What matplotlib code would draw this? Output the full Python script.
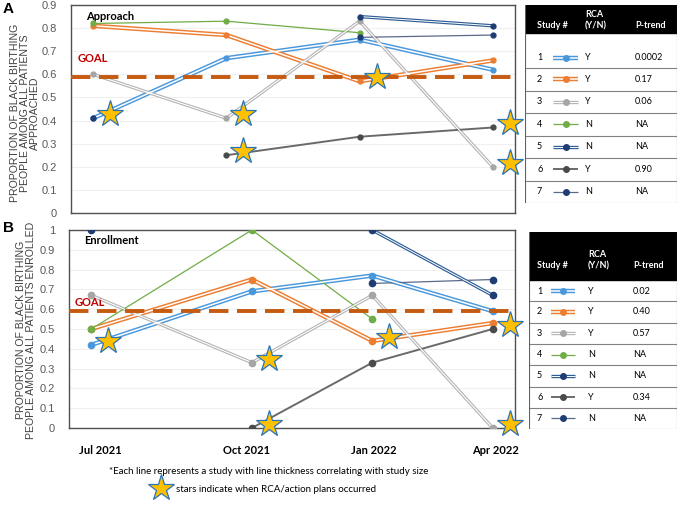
import numpy as np
import matplotlib
matplotlib.use("Agg")
import matplotlib.pyplot as plt
from matplotlib.patches import Rectangle
from matplotlib.transforms import offset_copy

nan = np.nan

# time points
months = ['Jul 2021', 'Oct 2021', 'Jan 2022', 'Apr 2022']

# panel A: proportion approached, per study
approach_s1 = [0.41, 0.67, 0.75, 0.62]
approach_s2 = [0.81, 0.77, 0.57, 0.66]
approach_s3 = [0.60, 0.41, 0.83, 0.20]
approach_s4 = [0.82, 0.83, 0.78, nan]
approach_s5 = [0.41, nan, 0.85, 0.81]
approach_s6 = [nan, 0.25, 0.33, 0.37]
approach_s7 = [nan, nan, 0.76, 0.77]

# panel B: proportion enrolled, per study
enroll_s1 = [0.42, 0.69, 0.77, 0.59]
enroll_s2 = [0.50, 0.75, 0.44, 0.53]
enroll_s3 = [0.67, 0.33, 0.67, 0.00]
enroll_s4 = [0.50, 1.00, 0.55, nan]
enroll_s5 = [1.00, nan, 1.00, 0.67]
enroll_s6 = [nan, 0.00, 0.33, 0.50]
enroll_s7 = [nan, nan, 0.73, 0.75]

goal = 0.59

# RCA / action plan events: (study number, time index)
rca_events = [(1, 0), (3, 1), (6, 1), (2, 2), (6, 3), (3, 3)]

# table contents
study_ids = ['1', '2', '3', '4', '5', '6', '7']
rca_yn = ['Y', 'Y', 'Y', 'N', 'N', 'Y', 'N']
ptrend_a = ['0.0002', '0.17', '0.06', 'NA', 'NA', '0.90', 'NA']
ptrend_b = ['0.02', '0.40', '0.57', 'NA', 'NA', '0.34', 'NA']

# line styles per study: color, outer lw, inner (white) lw, marker color
styles = [
    ('#4a98dc', 3.2, 1.1, '#4a98dc'),
    ('#ed7d31', 3.2, 1.1, '#ed7d31'),
    ('#b4b4b4', 2.4, 0.8, '#a5a5a5'),
    ('#70ad47', 0.9, 0, '#70ad47'),
    ('#2f5d95', 2.4, 0.7, '#1f3c73'),
    ('#6a6a6a', 1.4, 0, '#4a4a4a'),
    ('#5a6a8a', 0.9, 0, '#1f3c73'),
]

calibri = ['Lato', 'DejaVu Sans']
plt.rcParams['font.family'] = ['Liberation Sans', 'DejaVu Sans']

W, H = 678, 505
fig = plt.figure(figsize=(W / 100, H / 100), dpi=100)

STAR = dict(marker='*', ms=20, mfc='#ffc000', mec='#2e75b6', mew=0.9)


def px_axes(x0, y0, x1, y1):
    return fig.add_axes([x0 / W, 1 - y1 / H, (x1 - x0) / W, (y1 - y0) / H])


def draw_study(ax, x, y, st, ms, z=3):
    color, lw, inner, mcol = st
    ax.plot(x, y, color=color, lw=lw, solid_capstyle='butt', zorder=z)
    if inner:
        ax.plot(x, y, color='white', lw=inner, solid_capstyle='butt', zorder=z + 0.1)
    ax.plot(x, y, 'o', ms=ms, color=mcol, lw=0, zorder=z + 0.2)


def panel(ax, xpos, series, ymax, ms):
    for s, st in zip(series, styles):
        draw_study(ax, xpos, s, st, ms)
    ax.axhline(goal, color='#c55a11', lw=2.8, dashes=(5, 2.2), zorder=5)
    star_tr = offset_copy(ax.transData, fig=fig, x=17, y=4, units='dots')
    for study, t in rca_events:
        ax.plot(xpos[t], series[study - 1][t], transform=star_tr,
                zorder=6, clip_on=False, **STAR)
    ax.set_ylim(0, ymax)
    ticks = np.round(np.arange(0, ymax + 0.01, 0.1), 1)
    ax.set_yticks(ticks)
    ax.set_yticklabels([f'{v:g}' for v in ticks], fontsize=8, color='#595959')
    ax.yaxis.grid(True, color='#f0f0f0', lw=0.8)
    ax.set_axisbelow(True)
    ax.tick_params(length=0, pad=10)
    for sp in ax.spines.values():
        sp.set_color('#505050')
        sp.set_linewidth(1.0)


# ---- panel A ----
axA = px_axes(71, 5, 515, 213)
xa = [0, 1, 2, 3]
series_a = [approach_s1, approach_s2, approach_s3, approach_s4,
            approach_s5, approach_s6, approach_s7]
panel(axA, xa, series_a, 0.9, 3.5)
axA.set_xlim(-1 / 6, 3 + 1 / 6)
axA.set_xticks([])
axA.text(0.035, 0.97, 'Approach', transform=axA.transAxes, fontsize=8,
         fontweight='bold', family=calibri, va='top')
axA.text(0.015, 0.645, 'GOAL', transform=axA.get_yaxis_transform(), fontsize=8,
         fontweight='bold', color='#c00000', family=calibri, va='bottom')

# ---- panel B ----
axB = px_axes(69, 230, 515, 428)
xb = [0, 1.2, 2.1, 3.0]
series_b = [enroll_s1, enroll_s2, enroll_s3, enroll_s4,
            enroll_s5, enroll_s6, enroll_s7]
panel(axB, xb, series_b, 1.0, 4.5)
axB.set_xlim(-1 / 6, 3 + 1 / 6)
axB.set_xticks([0.07, 1.16, 2.11, 3.02])
axB.set_xticklabels(months, fontsize=8, fontweight='bold', family=calibri,
                    color='black')
axB.tick_params(axis='x', pad=12)
axB.text(0.035, 0.975, 'Enrollment', transform=axB.transAxes, fontsize=8,
         fontweight='bold', family=calibri, va='top')
axB.text(0.012, 0.605, 'GOAL', transform=axB.get_yaxis_transform(), fontsize=8,
         fontweight='bold', color='#c00000', family=calibri, va='bottom')

# axis titles and panel letters
fig.text(25 / W, 1 - 113 / H,
         'PROPORTION OF BLACK BIRTHING\nPEOPLE AMONG ALL PATIENTS\nAPPROACHED',
         rotation=90, ha='center', va='center', fontsize=7.6, color='#404040',
         linespacing=1.05)
fig.text(26 / W, 1 - 330 / H,
         'PROPORTION OF BLACK BIRTHING\nPEOPLE AMONG ALL PATIENTS ENROLLED',
         rotation=90, ha='center', va='center', fontsize=7.6, color='#404040',
         linespacing=1.05)
fig.text(3 / W, 1 - 2 / H, 'A', fontsize=11, fontweight='bold', va='top')
fig.text(3 / W, 1 - 221 / H, 'B', fontsize=11, fontweight='bold', va='top')

# footnotes
fig.text(269 / W, 1 - 471 / H,
         '*Each line represents a study with line thickness correlating with study size',
         ha='center', va='center', fontsize=7, family=calibri)
fig.text(176 / W, 1 - 489 / H, 'stars indicate when RCA/action plans occurred',
         ha='left', va='center', fontsize=7, family=calibri)
fig.lines.append(plt.Line2D([161 / W], [1 - 488 / H],
                            transform=fig.transFigure, **STAR))


# ---- tables ----
def draw_table(x0, x1, y0, yh, hy, row_edges, ptrend, cols):
    ax = px_axes(x0, y0, x1, row_edges[-1])
    ax.set_xlim(x0, x1)
    ax.set_ylim(row_edges[-1], y0)
    ax.axis('off')
    ax.add_patch(Rectangle((x0, y0), x1 - x0, yh - y0, color='black'))
    cx_num, cx_l0, cx_l1, cx_rca, cx_p = cols
    hdr = dict(color='white', fontsize=6.5, fontweight='bold', family=calibri)
    ax.text(cx_num, hy, 'Study #', va='center', **hdr)
    ax.text(cx_rca, hy - 4.5, 'RCA\n(Y/N)', va='center', linespacing=1.35, **hdr)
    ax.text(cx_p, hy, 'P-trend', va='center', **hdr)
    for i in range(len(study_ids)):
        top, bot = row_edges[i], row_edges[i + 1]
        cy = bot - 10 if i == 0 else (top + bot) / 2
        ax.text(cx_num, cy, study_ids[i], fontsize=6.5, family=calibri, va='center')
        draw_study(ax, [cx_l0, cx_l1], [cy, cy], styles[i], 0)
        ax.plot((cx_l0 + cx_l1) / 2, cy, 'o', ms=4, color=styles[i][3], zorder=5)
        ax.text(cx_rca, cy, rca_yn[i], fontsize=6.5, family=calibri, va='center')
        ax.text(cx_p, cy, ptrend[i], fontsize=6.5, family=calibri, va='center')
        ax.plot([x0, x1], [bot, bot], color='#808080', lw=0.8)
    ax.plot([x0, x0], [y0, row_edges[-1]], color='#606060', lw=0.8)
    ax.plot([x1 - 0.5, x1 - 0.5], [y0, row_edges[-1]], color='#606060', lw=0.8)


edges_a = [33, 68] + [68 + 22.5 * k for k in range(1, 7)]
draw_table(525, 677, 5, 33, 25, edges_a, ptrend_a, (537, 553, 578, 585, 635))
edges_b = [280 + 21.3 * k for k in range(8)]
draw_table(529, 677, 232, 280, 265, edges_b, ptrend_b, (537, 551, 575, 588, 633))

fig.savefig('out.png', dpi=100)
